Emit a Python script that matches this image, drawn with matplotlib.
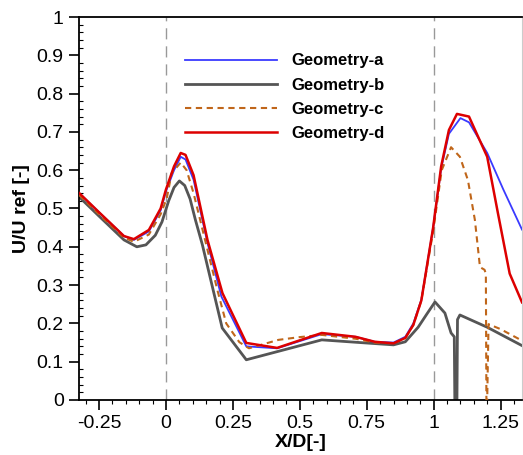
import numpy as np
import matplotlib
matplotlib.use('Agg')
import matplotlib.pyplot as plt
from matplotlib.ticker import MultipleLocator, FormatStrFormatter

plt.rcParams['font.family'] = ['Liberation Sans', 'DejaVu Sans']

# Geometry-a (blue)
xa = [-0.324, -0.25, -0.157, -0.12, -0.064, -0.02, 0.0, 0.03, 0.055, 0.073, 0.103, 0.155, 0.207,
      0.30, 0.415, 0.582, 0.708, 0.78, 0.85, 0.894, 0.924, 0.954, 0.998, 1.028, 1.057, 1.10,
      1.132, 1.20, 1.26, 1.33]
ya = [0.54, 0.49, 0.428, 0.418, 0.440, 0.495, 0.545, 0.60, 0.635, 0.628, 0.575, 0.41, 0.27,
      0.14, 0.135, 0.172, 0.165, 0.152, 0.150, 0.165, 0.200, 0.262, 0.45, 0.605, 0.695, 0.736,
      0.725, 0.645, 0.55, 0.445]

# Geometry-b (gray)
xb = [-0.324, -0.25, -0.157, -0.109, -0.075, -0.04, -0.015, 0.01, 0.03, 0.05, 0.07, 0.09, 0.11,
      0.136, 0.21, 0.30, 0.582, 0.745, 0.85, 0.894, 0.942, 0.975, 1.005, 1.042, 1.065, 1.077,
      1.079, 1.087, 1.089, 1.098, 1.20, 1.33]
yb = [0.53, 0.48, 0.418, 0.40, 0.405, 0.43, 0.465, 0.52, 0.555, 0.572, 0.56, 0.525, 0.47,
      0.405, 0.188, 0.105, 0.157, 0.149, 0.144, 0.152, 0.19, 0.225, 0.256, 0.227, 0.175, 0.165,
      0.0, 0.0, 0.21, 0.222, 0.19, 0.142]

# Geometry-c (orange dashed)
xc = [-0.324, -0.25, -0.157, -0.12, -0.064, -0.02, 0.003, 0.021, 0.055, 0.077, 0.103, 0.192,
      0.225, 0.274, 0.31, 0.42, 0.497, 0.582, 0.708, 0.78, 0.85, 0.894, 0.924, 0.954, 0.998,
      1.03, 1.065, 1.098, 1.128, 1.154, 1.173, 1.19, 1.195, 1.197, 1.200, 1.205, 1.25, 1.33]
yc = [0.535, 0.485, 0.424, 0.413, 0.432, 0.485, 0.527, 0.592, 0.62, 0.60, 0.54, 0.287,
      0.20, 0.151, 0.135, 0.157, 0.164, 0.170, 0.160, 0.150, 0.148, 0.162, 0.196, 0.26, 0.44,
      0.60, 0.66, 0.635, 0.574, 0.47, 0.347, 0.34, 0.33, 0.0, 0.0, 0.198, 0.185, 0.155]

# Geometry-d (red)
xd = [-0.324, -0.25, -0.157, -0.12, -0.064, -0.02, 0.0, 0.03, 0.055, 0.073, 0.103, 0.155, 0.211,
      0.30, 0.415, 0.582, 0.708, 0.78, 0.85, 0.894, 0.924, 0.954, 0.998, 1.028, 1.057, 1.087,
      1.132, 1.20, 1.24, 1.284, 1.33]
yd = [0.54, 0.49, 0.428, 0.42, 0.444, 0.50, 0.55, 0.61, 0.645, 0.64, 0.587, 0.418, 0.279,
      0.149, 0.136, 0.175, 0.165, 0.152, 0.148, 0.162, 0.196, 0.26, 0.45, 0.61, 0.705, 0.747,
      0.74, 0.635, 0.488, 0.33, 0.255]

labels = ['Geometry-a', 'Geometry-b', 'Geometry-c', 'Geometry-d']

fig = plt.figure(figsize=(5.23, 4.55), dpi=100)
ax = fig.add_axes([79/523, 1-400/455, 443/523, 383/455])

# reference lines at X/D = 0 and 1
ax.axvline(0, color='#999999', lw=1, dashes=(8, 5), zorder=1)
ax.axvline(1, color='#999999', lw=1, dashes=(8, 5), zorder=1)

ax.plot(xa, ya, '-', color='#3a3aff', lw=1.3, label=labels[0], zorder=3)
ax.plot(xb, yb, '-', color='#555555', lw=2.0, label=labels[1], zorder=2)
ax.plot(xc, yc, '--', color='#c0661a', lw=1.5, dashes=(3, 2.2), label=labels[2], zorder=4)
ax.plot(xd, yd, '-', color='#dd0000', lw=1.8, label=labels[3], zorder=5)

ax.set_xlim(-0.325, 1.33)
ax.set_ylim(0, 1)
ax.xaxis.set_major_locator(MultipleLocator(0.25))
ax.xaxis.set_minor_locator(MultipleLocator(0.05))
ax.yaxis.set_major_locator(MultipleLocator(0.1))
ax.yaxis.set_minor_locator(MultipleLocator(0.02))
ax.xaxis.set_major_formatter(FormatStrFormatter('%g'))
ax.yaxis.set_major_formatter(FormatStrFormatter('%g'))
ax.tick_params(which='major', direction='out', length=7, width=1.2, labelsize=14, pad=4)
ax.tick_params(which='minor', direction='out', length=3, width=0.8)
ax.tick_params(axis='y', which='minor', direction='in')
for s in ax.spines.values():
    s.set_linewidth(1.3)
ax.spines['right'].set_color('#cccccc')
ax.spines['right'].set_linewidth(0.8)

ax.set_xlabel('X/D[-]', fontsize=14, fontweight='bold', labelpad=1)
ax.set_ylabel('U/U ref [-]', fontsize=14, fontweight='bold', labelpad=5)

ax.legend(loc='upper left', bbox_to_anchor=(0.239, 0.905), frameon=False,
          prop={'weight': 'bold', 'size': 12}, handlelength=5.5, handletextpad=0.9,
          labelspacing=0.55, borderpad=0, borderaxespad=0)

fig.savefig('out.png', dpi=100)
